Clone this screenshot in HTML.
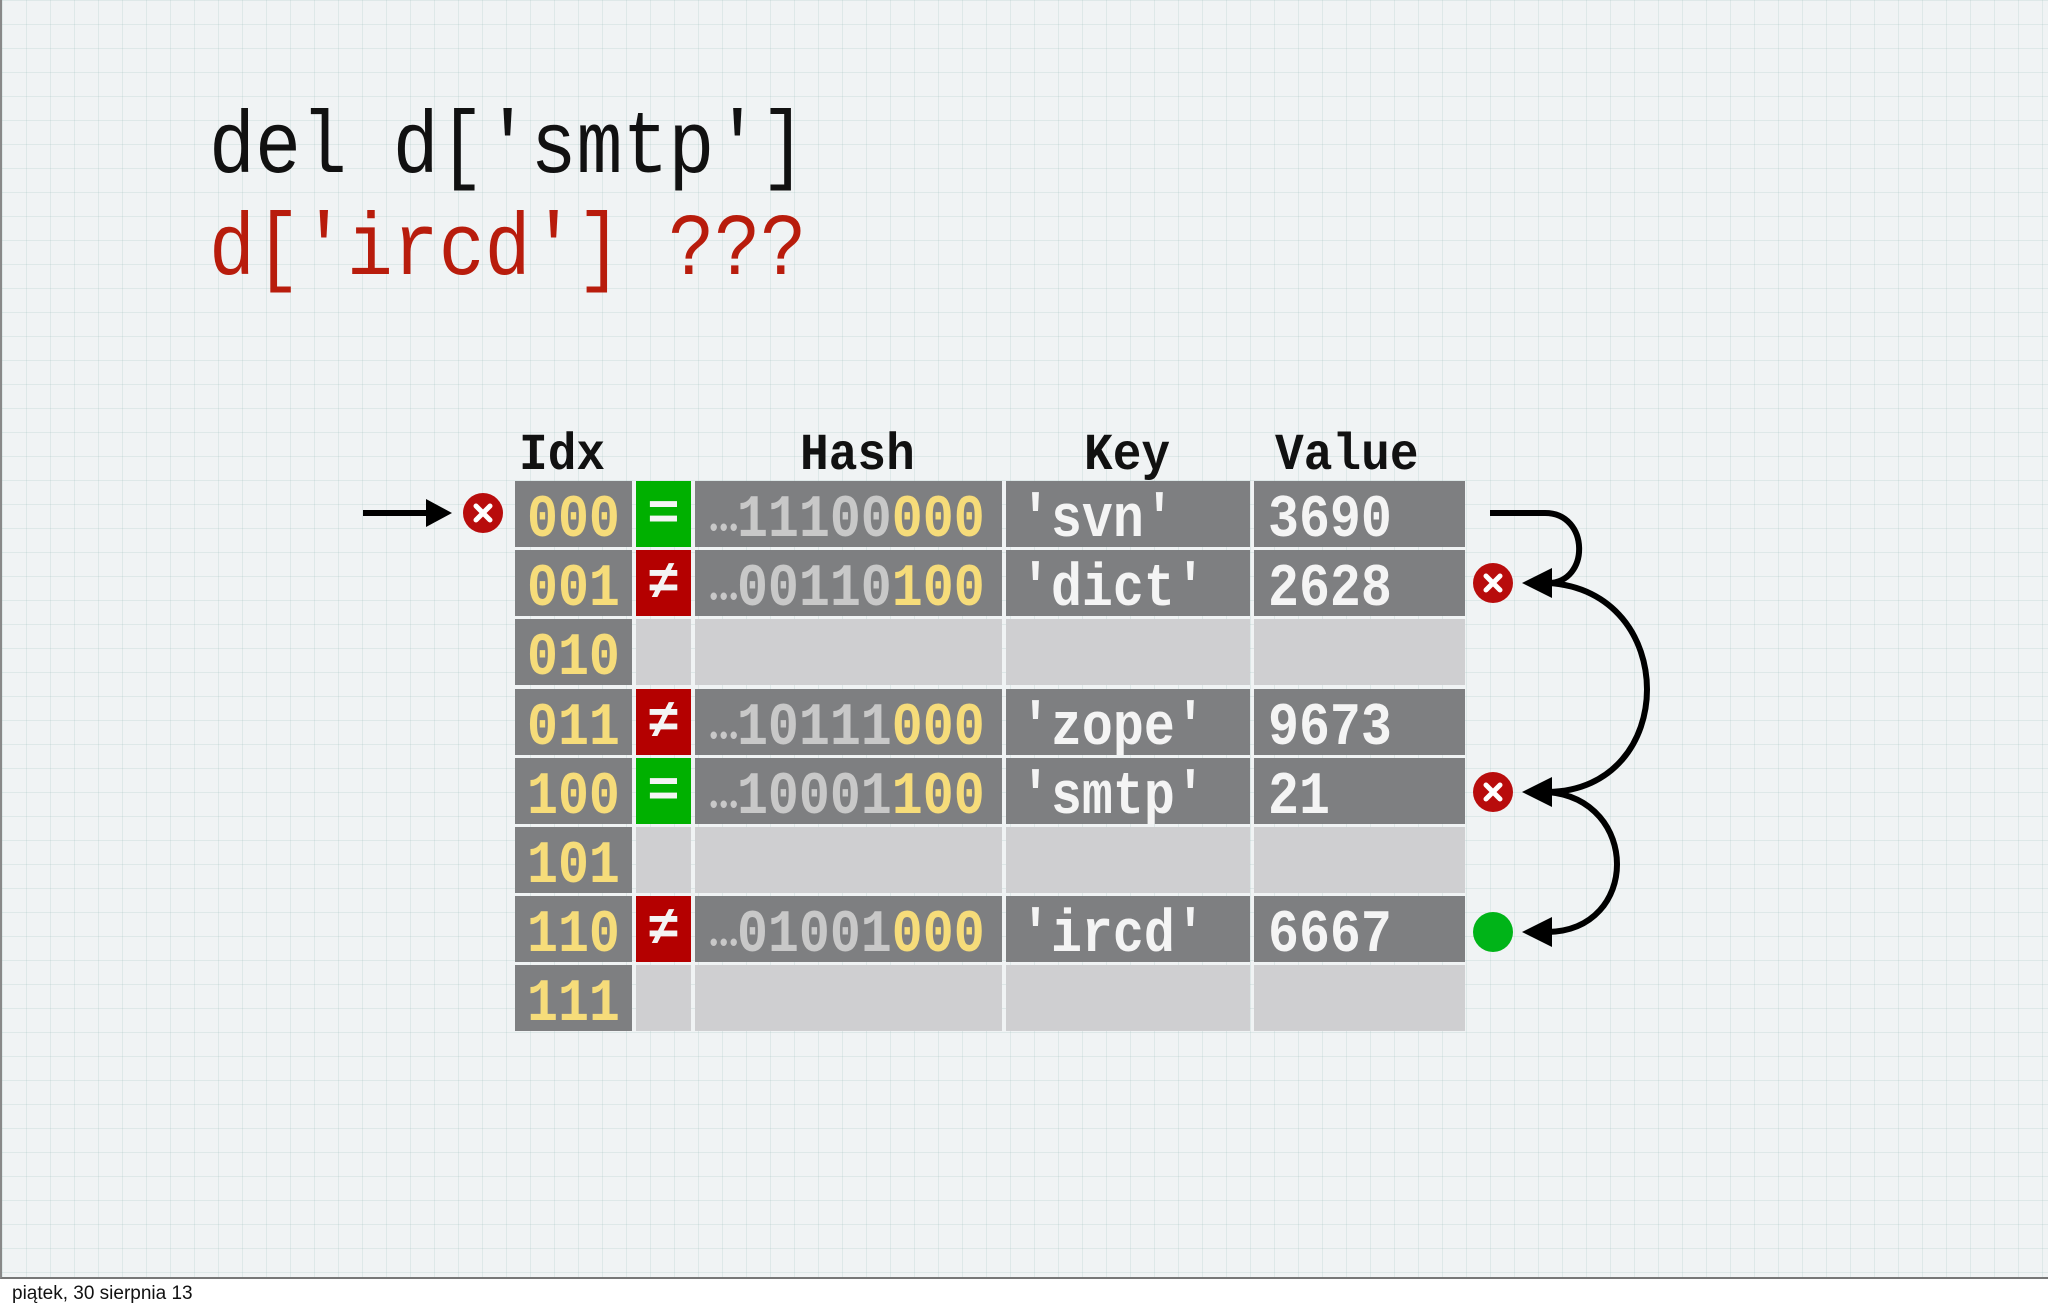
<!DOCTYPE html>
<html><head><meta charset="utf-8"><style>
html,body{margin:0;padding:0}
body{width:2048px;height:1312px;position:relative;overflow:hidden;background:#fff;font-family:"Liberation Mono",monospace}
#bg{position:absolute;left:0;top:0;width:2048px;height:1279px;background-color:#f0f3f4;
background-image:linear-gradient(to right,rgba(160,190,190,.22) 1px,transparent 1px),linear-gradient(to bottom,rgba(160,190,190,.22) 1px,transparent 1px);
background-size:24px 24px,24px 24px;border-bottom:2px solid #777;border-left:2px solid #888;box-sizing:border-box}
.t{position:absolute;white-space:pre;font-size:88px;line-height:1;transform-origin:0 0;transform:scaleX(0.87)}
.h{position:absolute;font-size:52px;font-weight:bold;color:#111;line-height:1;transform:scaleX(0.92);transform-origin:0 0}
.c{position:absolute;height:66px;box-sizing:border-box;font-size:60px;line-height:80px;white-space:pre;overflow:hidden;font-weight:bold}
.c>span.s{display:inline-block;transform:scaleX(0.86);transform-origin:0 50%;line-height:66px;margin-top:6px}
.d{background:#7e7f81}.l{background:#cfcfd1}
.y{color:#f6dc7a}.g{color:#c8c8c8}.w{color:#f4f4f4}
.e{font-size:26px;color:#c8c8c8;letter-spacing:-4px}
</style></head><body>
<div id="bg"></div>
<div class="t" style="left:209px;top:106px;color:#111">del d['smtp']</div>
<div class="t" style="left:209px;top:208px;color:#b81c0c">d['ircd'] ???</div>
<div class="h" style="left:519px;top:430px">Idx</div>
<div class="h" style="left:800px;top:430px">Hash</div>
<div class="h" style="left:1084px;top:430px">Key</div>
<div class="h" style="left:1275px;top:430px">Value</div>
<div id="tbl"></div>
<svg style="position:absolute;left:0;top:0" width="2048" height="1312">
<g fill="none" stroke="#000" stroke-width="6">
<line x1="363" y1="513" x2="430" y2="513"/>
<path d="M1490 513 H1545 C1590 513 1590 583 1548 583"/>
<path d="M1548 583 C1680 590 1680 790 1548 792"/>
<path d="M1548 792 C1640 800 1640 930 1548 932"/>
</g>
<g fill="#000">
<polygon points="452,513 426,499 426,527"/>
<polygon points="1522,583 1552,568 1552,598"/>
<polygon points="1522,792 1552,777 1552,807"/>
<polygon points="1522,932 1552,917 1552,947"/>
</g>
<g>
<circle cx="483" cy="513" r="20" fill="#b80c0c"/>
<circle cx="1493" cy="583" r="20" fill="#b80c0c"/>
<circle cx="1493" cy="792" r="20" fill="#b80c0c"/>
<circle cx="1493" cy="932" r="20" fill="#00b418"/>
<g stroke="#fff" stroke-width="5" stroke-linecap="round">
<path d="M476 506 L490 520 M490 506 L476 520"/>
<path d="M1486 576 L1500 590 M1500 576 L1486 590"/>
<path d="M1486 785 L1500 799 M1500 785 L1486 799"/>
</g></g>
</svg>
<div style="position:absolute;left:12px;top:1283px;font-family:'Liberation Sans',sans-serif;font-size:19px;color:#111">piątek, 30 sierpnia 13</div>
<script>
var rows=[["000","=","11100","000","'svn'","3690"],["001","≠","00110","100","'dict'","2628"],["010"],["011","≠","10111","000","'zope'","9673"],["100","=","10001","100","'smtp'","21"],["101"],["110","≠","01001","000","'ircd'","6667"],["111"]];
var h="";
rows.forEach(function(r,i){var y=481+i*69.2;
var full=r.length>1;
h+='<div class="c d y" style="left:515px;top:'+y+'px;width:117px;padding-left:12px"><span class="s">'+r[0]+'</span></div>';
var sc=full?(r[1]=="="?"#00b000":"#b40000"):"#cfcfd1";
h+='<div class="c w" style="left:636px;top:'+y+'px;width:55px;background:'+sc+';text-align:center;font-size:54px;line-height:70px">'+(full?r[1]:"")+'</div>';
h+='<div class="c '+(full?'d':'l')+'" style="left:695px;top:'+y+'px;width:307px;padding-left:12px">'+(full?'<span class="s"><span class="e">•••</span><span class="g">'+r[2]+'</span><span class="y">'+r[3]+'</span></span>':'')+'</div>';
h+='<div class="c '+(full?'d':'l')+' w" style="left:1006px;top:'+y+'px;width:244px;padding-left:14px">'+(full?'<span class="s">'+r[4]+'</span>':'')+'</div>';
h+='<div class="c '+(full?'d':'l')+' w" style="left:1254px;top:'+y+'px;width:211px;padding-left:14px">'+(full?'<span class="s">'+r[5]+'</span>':'')+'</div>';
});
document.getElementById("tbl").innerHTML=h;
</script>
</body></html>
